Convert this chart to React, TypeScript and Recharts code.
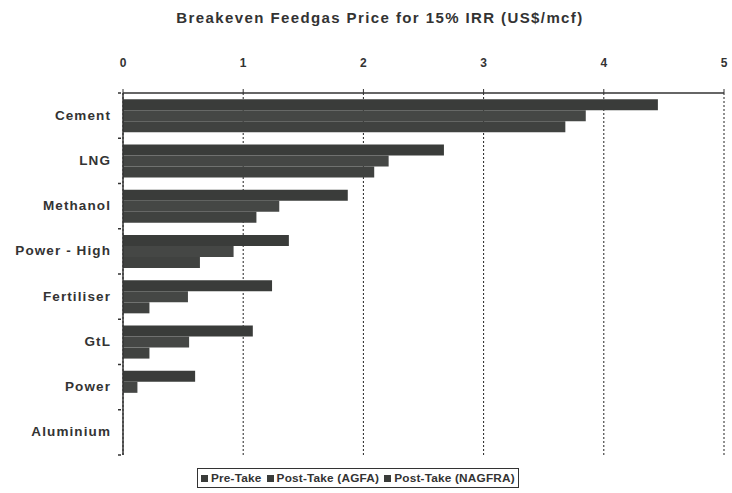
import { Bar, BarChart, CartesianGrid, Legend, XAxis, YAxis } from "recharts"

const categories = ["Cement", "LNG", "Methanol", "Power - High", "Fertiliser", "GtL", "Power", "Aluminium"]
const preTake = [4.45, 2.67, 1.87, 1.38, 1.24, 1.08, 0.6, 0]
const postTakeAgfa = [3.85, 2.21, 1.3, 0.92, 0.54, 0.55, 0.12, 0]
const postTakeNagfra = [3.68, 2.09, 1.11, 0.64, 0.22, 0.22, 0, 0]
const xTicks = [0, 1, 2, 3, 4, 5]
const seriesNames = ["Pre-Take", "Post-Take (AGFA)", "Post-Take (NAGFRA)"]

const chartData = categories.map((name, i) => ({
    name,
    pre: preTake[i],
    agfa: postTakeAgfa[i],
    nagfra: postTakeNagfra[i],
}))

const FONT = '"Liberation Sans", Arial, sans-serif'
const INK = "#3a3c3a"
const BAND = 362 / categories.length

const CategoryTick = ({ x, y, payload, index }: any) => (
    <g>
        <text x={x - 4} y={y} dy={4} textAnchor="end" fontFamily={FONT} fontWeight="bold" fontSize={13.5} letterSpacing={1.1} fill="#333">
            {payload.value}
        </text>
        {index === 0 && <line x1={x + 3} x2={x + 6} y1={y - BAND / 2} y2={y - BAND / 2} stroke="#333" strokeWidth={1.5} />}
        <line x1={x + 3} x2={x + 6} y1={y + BAND / 2} y2={y + BAND / 2} stroke="#333" strokeWidth={1.5} />
    </g>
)

const LegendBox = () => (
    <div style={{ border: "1.5px solid #333", padding: "2px 3px", fontFamily: FONT, fontWeight: "bold", fontSize: 11.8, color: "#333", whiteSpace: "nowrap", letterSpacing: 0.2 }}>
        {seriesNames.map((s, i) => (
            <span key={s} style={{ marginRight: i < seriesNames.length - 1 ? 5 : 0 }}>
                <span style={{ display: "inline-block", width: 7, height: 7, background: INK, marginRight: 3 }} />
                {s}
            </span>
        ))}
    </div>
)

export default function App() {
    return (
        <div style={{ position: "absolute", left: 0, top: 0, width: 732, height: 493, background: "#fff" }}>
            <div style={{ position: "absolute", top: 9, left: 0, width: 760, textAlign: "center", fontFamily: FONT, fontWeight: "bold", fontSize: 15, letterSpacing: 1.4, color: "#333" }}>
                Breakeven Feedgas Price for 15% IRR (US$/mcf)
            </div>
            <BarChart
                width={732}
                height={493}
                data={chartData}
                layout="vertical"
                margin={{ top: 53, right: 8, bottom: 18, left: 0 }}
                barCategoryGap="14%"
                barGap={0}
            >
                <CartesianGrid horizontal={false} strokeDasharray="2 2" stroke="#222" />
                <XAxis
                    type="number"
                    orientation="top"
                    domain={[0, 5]}
                    ticks={xTicks}
                    height={40}
                    axisLine={{ stroke: "#333", strokeWidth: 1.5 }}
                    tickLine={{ stroke: "#333" }}
                    tickSize={4}
                    tickMargin={22}
                    tick={{ fontFamily: FONT, fontWeight: "bold", fontSize: 12, fill: "#333" }}
                />
                <YAxis
                    type="category"
                    dataKey="name"
                    width={123}
                    axisLine={{ stroke: "#333", strokeWidth: 1.5 }}
                    tickLine={false}
                    tick={<CategoryTick />}
                    interval={0}
                />
                <Legend
                    content={<LegendBox />}
                    wrapperStyle={{ left: 197, bottom: 5, width: "auto" }}
                />
                <Bar dataKey="pre" name={seriesNames[0]} fill={INK} isAnimationActive={false} />
                <Bar dataKey="agfa" name={seriesNames[1]} fill="#454745" isAnimationActive={false} />
                <Bar dataKey="nagfra" name={seriesNames[2]} fill="#404240" isAnimationActive={false} />
            </BarChart>
        </div>
    )
}
